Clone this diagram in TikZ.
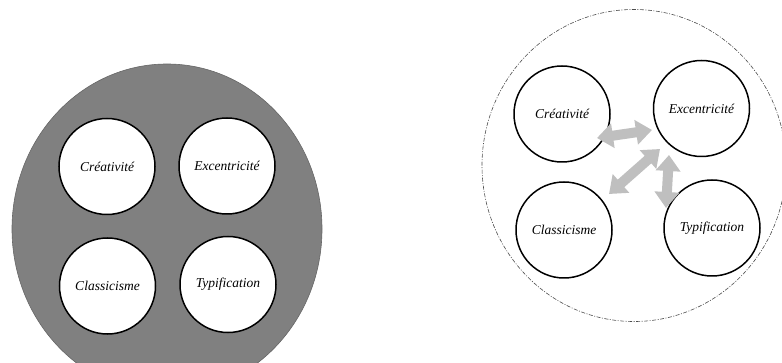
\documentclass[tikz,border=0pt]{standalone}
\usepackage{fontspec}
\setmainfont{Liberation Serif}
\usetikzlibrary{arrows.meta}

\tikzset{
  quality/.style={circle, draw=black, line width=1.5pt, fill=white,
    minimum size=96pt, inner sep=0pt, font=\fontsize{13.5}{15}\selectfont\itshape},
  link/.style={line width=10pt, draw=gray!50,
    {Triangle[width=24pt,length=16pt]}-{Triangle[width=24pt,length=16pt]}},
}

\begin{document}
\begin{tikzpicture}[x=1pt,y=-1pt]
  \useasboundingbox (0,0) rectangle (782,363);
  \clip (0,0) rectangle (782,363);
  % left: grey field with its four qualities
  \fill[gray, draw=black!60, line width=0.6pt] (167,229) ellipse [x radius=155pt, y radius=165pt];
  \node[quality] (lcre) at (107,166.5) {Créativité};
  \node[quality] (lexc) at (227,166) {Excentricité};
  \node[quality] (lcla) at (107.5,286) {Classicisme};
  \node[quality] (ltyp) at (228,284.5) {Typification};
  % right: open field, dash-dot border
  \draw[black!70, line width=0.6pt, dash pattern=on 4pt off 1.5pt on 1pt off 1.5pt]
    (634,165.5) ellipse [x radius=152pt, y radius=156pt];
  \node[quality] (rcre) at (562,114) {Créativité};
  \node[quality] (rexc) at (701.5,108.5) {Excentricité};
  \node[quality] (rcla) at (564,230) {Classicisme};
  \node[quality] (rtyp) at (712,228) {Typification};
  % arrow ends
  \coordinate (a1) at (597,138);
  \coordinate (b1) at (652,130);
  \coordinate (a2) at (609,194);
  \coordinate (b2) at (660,149);
  \coordinate (a3) at (669,155);
  \coordinate (b3) at (666,208);
  \foreach \i in {1,2,3} \draw[link] (a\i) -- (b\i);
\end{tikzpicture}
\end{document}
